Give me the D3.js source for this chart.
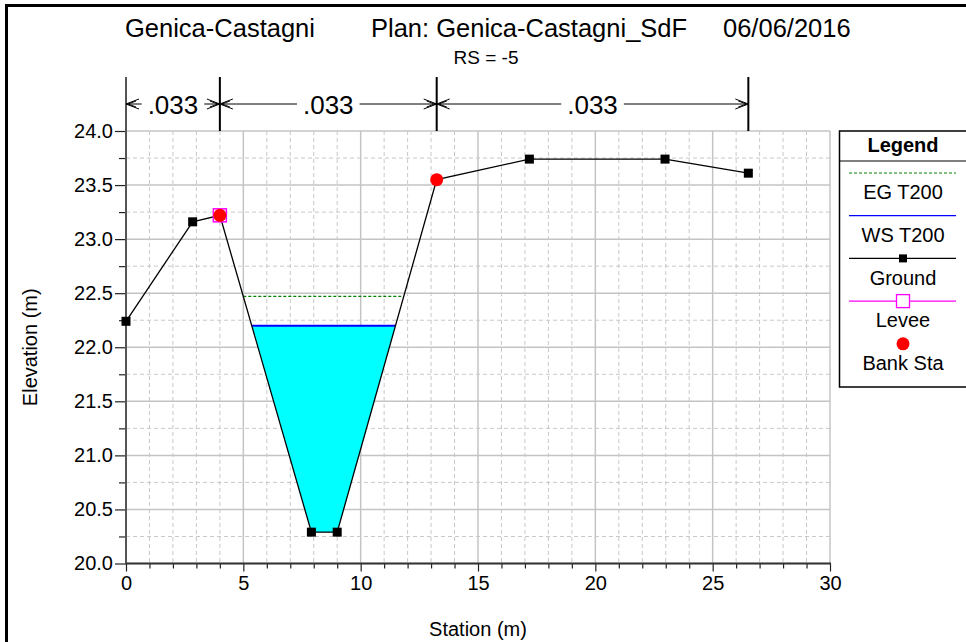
<!DOCTYPE html>
<html><head><meta charset="utf-8">
<script src="https://cdn.jsdelivr.net/npm/d3@7"></script>
<style>
html,body{margin:0;padding:0;background:#fff;}
svg{display:block;font-family:"Liberation Sans",Arial,sans-serif;}
</style></head>
<body>
<svg id="chart" width="966" height="642"></svg>
<script>
// ---- data ----
const station   = [0, 2.84, 4.0, 7.9, 9.0, 13.24, 17.19, 22.97, 26.52];
const elevation = [22.24, 23.16, 23.22, 20.29, 20.29, 23.55, 23.74, 23.74, 23.61];
const wsT200 = 22.20;
const egT200 = 22.47;
const leveeStation = [4.0];
const leveeElev = [23.22];
const bankStation = [4.0, 13.24];
const bankElev = [23.22, 23.55];
const nBreaks = [0, 4.0, 13.24, 26.52];
const nValues = [".033", ".033", ".033"];
const xTicks = [0, 5, 10, 15, 20, 25, 30];
const yTicks = [20.0, 20.5, 21.0, 21.5, 22.0, 22.5, 23.0, 23.5, 24.0];
const legendLabels = ["EG T200", "WS T200", "Ground", "Levee", "Bank Sta"];
const titleParts = ["Genica-Castagni", "Plan: Genica-Castagni_SdF", "06/06/2016"];
const subTitle = "RS = -5";

// ---- layout ----
const L = 126, R = 830, T = 131, B = 563.5;
const x = d3.scaleLinear().domain([0, 30]).range([L, R]);
const y = d3.scaleLinear().domain([20, 24]).range([B, T]);
const svg = d3.select("#chart");

// frame
svg.append("rect").attr("x", 6.5).attr("y", 5.5).attr("width", 1000).attr("height", 700)
  .attr("fill", "none").attr("stroke", "#000").attr("stroke-width", 3);

// titles
const tt = svg.append("text").attr("y", 37).attr("font-size", 25.5).attr("fill", "#000");
tt.append("tspan").attr("x", 125).text(titleParts[0]);
tt.append("tspan").attr("x", 371).text(titleParts[1]);
tt.append("tspan").attr("x", 723).text(titleParts[2]);
svg.append("text").attr("x", 486).attr("y", 64).attr("font-size", 19)
  .attr("text-anchor", "middle").text(subTitle);

// grid
const g = svg.append("g");
const minorX = d3.range(0, 31, 1).filter(v => v % 5 !== 0);
const minorY = d3.range(20, 24.01, 0.25).filter(v => Math.abs(v * 2 - Math.round(v * 2)) > 1e-6);
g.selectAll(".mx").data(minorX).join("line")
  .attr("x1", d => x(d)).attr("x2", d => x(d)).attr("y1", T).attr("y2", B)
  .attr("stroke", "#c8c8c8").attr("stroke-width", 1).attr("stroke-dasharray", "4,3");
g.selectAll(".my").data(minorY).join("line")
  .attr("x1", L).attr("x2", R).attr("y1", d => y(d)).attr("y2", d => y(d))
  .attr("stroke", "#c8c8c8").attr("stroke-width", 1).attr("stroke-dasharray", "4,3");
g.selectAll(".Mx").data(xTicks).join("line")
  .attr("x1", d => x(d)).attr("x2", d => x(d)).attr("y1", T).attr("y2", B)
  .attr("stroke", "#c4c4c4").attr("stroke-width", 1.5);
g.selectAll(".My").data(yTicks).join("line")
  .attr("x1", L).attr("x2", R).attr("y1", d => y(d)).attr("y2", d => y(d))
  .attr("stroke", "#c4c4c4").attr("stroke-width", 1.5);

// intersections of a level with the ground, on each side of the thalweg
const iMin = elevation.indexOf(d3.min(elevation));
function crossings(level) {
  let left = null, right = null;
  for (let i = iMin; i > 0; i--) {
    const e0 = elevation[i - 1], e1 = elevation[i];
    if ((e0 - level) * (e1 - level) <= 0) {
      const t = (level - e0) / (e1 - e0);
      left = { s: station[i - 1] + t * (station[i] - station[i - 1]), i: i - 1 };
      break;
    }
  }
  for (let i = iMin; i < station.length - 1; i++) {
    const e0 = elevation[i], e1 = elevation[i + 1];
    if ((e0 - level) * (e1 - level) <= 0) {
      const t = (level - e0) / (e1 - e0);
      right = { s: station[i] + t * (station[i + 1] - station[i]), i };
      break;
    }
  }
  return [left, right];
}
const wsX = crossings(wsT200);
const egX = crossings(egT200);

// water fill
const poly = [[wsX[0].s, wsT200]];
for (let i = wsX[0].i + 1; i <= wsX[1].i; i++) poly.push([station[i], elevation[i]]);
poly.push([wsX[1].s, wsT200]);
svg.append("path")
  .attr("d", d3.line().x(d => x(d[0])).y(d => y(d[1]))(poly) + "Z")
  .attr("fill", "#00ffff").attr("stroke", "none");

// EG line
svg.append("line").attr("x1", x(egX[0].s)).attr("x2", x(egX[1].s))
  .attr("y1", y(egT200)).attr("y2", y(egT200))
  .attr("stroke", "#008000").attr("stroke-width", 1.2).attr("stroke-dasharray", "3,2");
// WS line
svg.append("line").attr("x1", x(wsX[0].s)).attr("x2", x(wsX[1].s))
  .attr("y1", y(wsT200)).attr("y2", y(wsT200))
  .attr("stroke", "#0000ff").attr("stroke-width", 2);

// axes
const axCol = "#555";
const yAx = svg.append("g").attr("transform", `translate(${L},0)`)
  .call(d3.axisLeft(y).tickValues(yTicks).tickSize(11).tickPadding(2).tickFormat(d3.format(".1f")));
const yMin = svg.append("g").attr("transform", `translate(${L},0)`)
  .call(d3.axisLeft(y).tickValues(minorY).tickSize(7).tickFormat(""));
const xAx = svg.append("g").attr("transform", `translate(0,${B})`)
  .call(d3.axisBottom(x).tickValues(xTicks).tickSize(8).tickPadding(4).tickFormat(d3.format("d")));
const xMin = svg.append("g").attr("transform", `translate(0,${B})`)
  .call(d3.axisBottom(x).tickValues(minorX).tickSize(5).tickFormat(""));
[yAx, yMin, xAx, xMin].forEach(a => {
  a.select(".domain").remove();
  a.selectAll(".tick line").attr("stroke", "#222").attr("stroke-width", 1.2);
  a.selectAll("text").attr("font-size", 20).attr("fill", "#000")
    .attr("font-family", '"Liberation Sans",Arial,sans-serif');
});
svg.append("line").attr("x1", L).attr("x2", L).attr("y1", 77).attr("y2", B + 1)
  .attr("stroke", axCol).attr("stroke-width", 2);
svg.append("line").attr("x1", L).attr("x2", R + 1).attr("y1", B).attr("y2", B)
  .attr("stroke", "#333").attr("stroke-width", 2);

// axis titles
svg.append("text").attr("x", 478).attr("y", 636).attr("font-size", 20)
  .attr("text-anchor", "middle").text("Station (m)");
svg.append("text").attr("transform", `translate(37,${(T + B) / 2}) rotate(-90)`)
  .attr("font-size", 20).attr("text-anchor", "middle").text("Elevation (m)");

// n-value bands
const ay = 104;
nBreaks.forEach((s, i) => {
  if (i === 0) return;
  svg.append("line").attr("x1", x(s)).attr("x2", x(s)).attr("y1", 77).attr("y2", T)
    .attr("stroke", "#000").attr("stroke-width", 2);
});
function chevron(tipX, dir) {
  const p = d3.path();
  p.moveTo(tipX - dir * 13, ay - 5); p.lineTo(tipX, ay); p.lineTo(tipX - dir * 13, ay + 5);
  p.moveTo(tipX - dir * 10, ay - 3); p.lineTo(tipX - dir * 2, ay);
  p.lineTo(tipX - dir * 10, ay + 3);
  svg.append("path").attr("d", p.toString()).attr("fill", "none")
    .attr("stroke", "#000").attr("stroke-width", 1);
}
nValues.forEach((v, i) => {
  const a = x(nBreaks[i]), b = x(nBreaks[i + 1]);
  const c = (a + b) / 2;
  const txt = svg.append("text").attr("x", c).attr("y", ay + 9.5).attr("font-size", 26)
    .attr("text-anchor", "middle").text(v);
  const w = txt.node().getComputedTextLength();
  const l1 = c - w / 2 - 6, l2 = c + w / 2 + 6;
  if (l1 > a + 13) svg.append("line").attr("x1", a).attr("x2", l1).attr("y1", ay).attr("y2", ay)
    .attr("stroke", "#000").attr("stroke-width", 1);
  if (l2 < b - 13) svg.append("line").attr("x1", l2).attr("x2", b).attr("y1", ay).attr("y2", ay)
    .attr("stroke", "#000").attr("stroke-width", 1);
  chevron(a, -1); chevron(b, 1);
});

// ground
const gData = station.map((s, i) => [s, elevation[i]]);
svg.append("path").attr("d", d3.line().x(d => x(d[0])).y(d => y(d[1]))(gData))
  .attr("fill", "none").attr("stroke", "#000").attr("stroke-width", 1.3);
svg.selectAll(".gm").data(gData).join("rect")
  .attr("x", d => x(d[0]) - 4.5).attr("y", d => y(d[1]) - 4.5)
  .attr("width", 9).attr("height", 9).attr("fill", "#000");
// levee
svg.selectAll(".lv").data(leveeStation).join("rect")
  .attr("x", (d) => x(d) - 6.5).attr("y", (d, i) => y(leveeElev[i]) - 6.5)
  .attr("width", 13).attr("height", 13).attr("fill", "none")
  .attr("stroke", "#ff00ff").attr("stroke-width", 1.5);
// bank stations
svg.selectAll(".bk").data(bankStation).join("circle")
  .attr("cx", d => x(d)).attr("cy", (d, i) => y(bankElev[i])).attr("r", 6.5)
  .attr("fill", "#ff0000");

// legend
const lg = svg.append("g");
lg.append("rect").attr("x", 839.5).attr("y", 131).attr("width", 200).attr("height", 256)
  .attr("fill", "#fff").attr("stroke", "#000").attr("stroke-width", 1.5);
lg.append("line").attr("x1", 839.5).attr("x2", 966).attr("y1", 161).attr("y2", 161)
  .attr("stroke", "#000").attr("stroke-width", 1.2);
lg.append("text").attr("x", 903).attr("y", 152).attr("font-size", 20).attr("font-weight", "bold")
  .attr("text-anchor", "middle").text("Legend");
const lx1 = 849, lx2 = 956, lcx = 903;
legendLabels.forEach((lab, i) => {
  const sy = 173 + i * 42.7;
  lg.append("text").attr("x", lcx).attr("y", sy + 26.3).attr("font-size", 20)
    .attr("text-anchor", "middle").text(lab);
  if (i === 0) lg.append("line").attr("x1", lx1).attr("x2", lx2).attr("y1", sy).attr("y2", sy)
    .attr("stroke", "#008000").attr("stroke-width", 1.2).attr("stroke-dasharray", "3,2");
  if (i === 1) lg.append("line").attr("x1", lx1).attr("x2", lx2).attr("y1", sy).attr("y2", sy)
    .attr("stroke", "#0000ff").attr("stroke-width", 1.3);
  if (i === 2) {
    lg.append("line").attr("x1", lx1).attr("x2", lx2).attr("y1", sy).attr("y2", sy)
      .attr("stroke", "#000").attr("stroke-width", 1.2);
    lg.append("rect").attr("x", lcx - 4).attr("y", sy - 4).attr("width", 8).attr("height", 8).attr("fill", "#000");
  }
  if (i === 3) {
    lg.append("line").attr("x1", lx1).attr("x2", lx2).attr("y1", sy).attr("y2", sy)
      .attr("stroke", "#ff00ff").attr("stroke-width", 1.3);
    lg.append("rect").attr("x", lcx - 6.5).attr("y", sy - 6.5).attr("width", 13).attr("height", 13)
      .attr("fill", "#fff").attr("stroke", "#ff00ff").attr("stroke-width", 1.3);
  }
  if (i === 4) lg.append("circle").attr("cx", lcx).attr("cy", sy).attr("r", 6.5).attr("fill", "#ff0000");
});
</script>
</body></html>
